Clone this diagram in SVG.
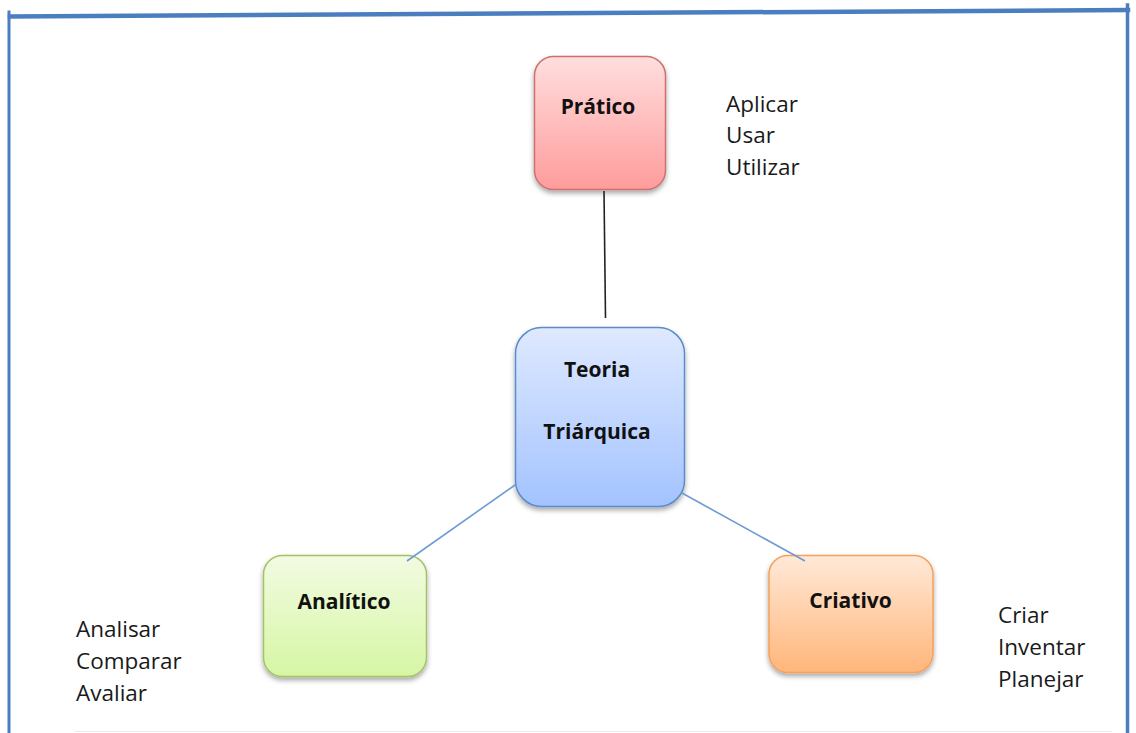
<svg xmlns="http://www.w3.org/2000/svg" width="1136" height="733" viewBox="0 0 1136 733">
  <style>
    .frame { stroke: #4a7ebf; fill: none; stroke-linecap: square; }
    .title { font-family: "Open Sans", "Liberation Sans", sans-serif; font-size: 21px; font-weight: bold; fill: #111; text-anchor: middle; }
    .list { font-family: "Open Sans", "Liberation Sans", sans-serif; font-size: 22.5px; fill: #1a1a1a; }
    .box { filter: url(#shadow); }
  </style>
  <defs>
    <filter id="shadow" x="-20%" y="-20%" width="140%" height="150%">
      <feDropShadow dx="0" dy="3" stdDeviation="2.5" flood-color="#000" flood-opacity="0.35"/>
    </filter>
    <linearGradient id="gRed" x1="0" y1="0" x2="0" y2="1">
      <stop offset="0" stop-color="#ffdede"/>
      <stop offset="1" stop-color="#ff9c9c"/>
    </linearGradient>
    <linearGradient id="gBlue" x1="0" y1="0" x2="0" y2="1">
      <stop offset="0" stop-color="#dfe9ff"/>
      <stop offset="1" stop-color="#a3c3ff"/>
    </linearGradient>
    <linearGradient id="gGreen" x1="0" y1="0" x2="0" y2="1">
      <stop offset="0" stop-color="#f2fbe2"/>
      <stop offset="1" stop-color="#d6f6a3"/>
    </linearGradient>
    <linearGradient id="gOrange" x1="0" y1="0" x2="0" y2="1">
      <stop offset="0" stop-color="#ffe9d8"/>
      <stop offset="1" stop-color="#ffb67a"/>
    </linearGradient>
  </defs>

  <rect width="1136" height="733" fill="#ffffff"/>

  <!-- outer frame -->
  <g id="frame">
    <line class="frame" x1="10" y1="16.5" x2="1128" y2="10" stroke-width="4.5"/>
    <line class="frame" x1="9" y1="12" x2="9" y2="733" stroke-width="3"/>
    <line class="frame" x1="1127.5" y1="5" x2="1127.5" y2="733" stroke-width="3.5"/>
    <line x1="75" y1="731.5" x2="1112" y2="731.5" stroke="#e6edf6" stroke-width="1.2"/>
  </g>

  <g id="node-pratico">
    <rect class="box" x="534.5" y="56.5" width="131" height="133" rx="19" fill="url(#gRed)" stroke="#cd6f6c" stroke-width="1.5"/>
    <text class="title" x="598" y="114">Prático</text>
  </g>

  <g id="node-teoria">
    <rect class="box" x="515.5" y="327.5" width="169" height="179" rx="26" fill="url(#gBlue)" stroke="#5b8bcb" stroke-width="1.5"/>
    <text class="title" x="597" y="377">Teoria</text>
    <text class="title" x="597" y="439">Triárquica</text>
  </g>

  <g id="node-analitico">
    <rect class="box" x="263.5" y="555.5" width="163" height="121" rx="19" fill="url(#gGreen)" stroke="#a3c266" stroke-width="1.5"/>
    <text class="title" x="344" y="609">Analítico</text>
  </g>

  <g id="node-criativo">
    <rect class="box" x="769" y="555.5" width="164" height="117" rx="19" fill="url(#gOrange)" stroke="#f5a05c" stroke-width="1.5"/>
    <text class="title" x="850.5" y="608">Criativo</text>
  </g>

  <!-- connectors, drawn over the box edges they touch -->
  <g id="connectors" stroke-width="1.6" fill="none">
    <line x1="604" y1="191" x2="605.5" y2="318" stroke="#222"/>
    <line x1="515" y1="485" x2="407" y2="561" stroke="#6d9bd3"/>
    <line x1="682" y1="493" x2="805" y2="561" stroke="#6d9bd3"/>
  </g>

  <!-- verb lists -->
  <g id="list-pratico" class="list">
    <text x="726" y="112">Aplicar</text>
    <text x="726" y="143">Usar</text>
    <text x="726" y="175">Utilizar</text>
  </g>
  <g id="list-criativo" class="list">
    <text x="998" y="623">Criar</text>
    <text x="998" y="655">Inventar</text>
    <text x="998" y="687">Planejar</text>
  </g>
  <g id="list-analitico" class="list">
    <text x="76" y="637">Analisar</text>
    <text x="76" y="669">Comparar</text>
    <text x="76" y="701">Avaliar</text>
  </g>
</svg>
